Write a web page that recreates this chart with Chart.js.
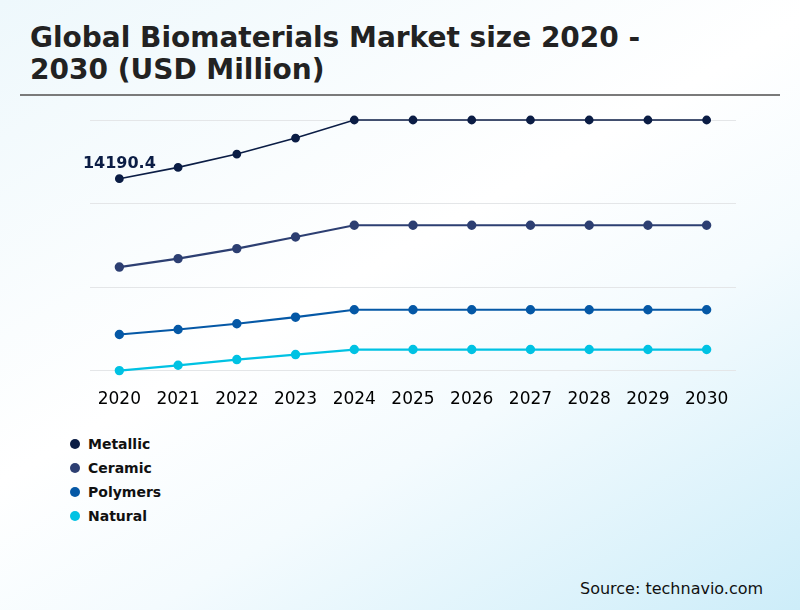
<!DOCTYPE html>
<html>
<head>
<meta charset="utf-8">
<script src="https://cdn.jsdelivr.net/npm/chart.js@4.4.1/dist/chart.umd.min.js"></script>
<style>
  html, body { margin:0; padding:0; }
  body {
    width:800px; height:610px; overflow:hidden; position:relative;
    font-family: "DejaVu Sans", sans-serif;
    background: linear-gradient(150deg, #eef8fc 0%, #ffffff 45%, #f4fbfe 65%, #cdedf9 100%);
  }
  #title {
    position:absolute; left:30px; top:22px; margin:0;
    font-size:28px; font-weight:bold; color:#222; line-height:32px;
  }
  #rule { position:absolute; left:20px; top:94px; width:760px; height:2px; background:#7a7a7a; }
  #wrap { position:absolute; left:0; top:100px; width:800px; height:328px; }
  #legend { position:absolute; left:70px; top:432px; }
  .li { display:flex; align-items:center; height:24px; font-size:14px; font-weight:bold; color:#111; }
  .dot { width:10px; height:10px; border-radius:50%; margin-right:8px; }
  #source { position:absolute; left:580px; top:579px; font-size:16px; color:#111; }
</style>
</head>
<body>
<div id="title">Global Biomaterials Market size 2020 -<br>2030 (USD Million)</div>
<div id="rule"></div>
<div id="wrap"><canvas id="c"></canvas></div>
<div id="legend"></div>
<div id="source">Source: technavio.com</div>
<script>
const years = ['2020','2021','2022','2023','2024','2025','2026','2027','2028','2029','2030'];
const seriesNames = ['Metallic','Ceramic','Polymers','Natural'];
const seriesColors = ['#0b1d45','#2d3f72','#0558a6','#00c2e3'];
const metallic = [14190.4, 14730, 15368, 16136, 17000, 17000, 17000, 17000, 17000, 17000, 17000];
const ceramic  = [9958, 10362, 10842, 11398, 11960, 11960, 11960, 11960, 11960, 11960, 11960];
const polymers = [6728, 6968, 7242, 7558, 7914, 7914, 7914, 7914, 7914, 7914, 7914];
const natural  = [5000, 5254, 5528, 5768, 6008, 6008, 6008, 6008, 6008, 6008, 6008];
const yTicks = [5000, 9000, 13000, 17000];
const firstLabel = '14190.4';

const allData = [metallic, ceramic, polymers, natural];
const widths = [1.6, 2.2, 2.2, 2.2];

const labelPlugin = {
  id: 'firstLabel',
  afterDatasetsDraw(chart) {
    const pt = chart.getDatasetMeta(0).data[0];
    const ctx = chart.ctx;
    ctx.save();
    ctx.font = 'bold 16px "DejaVu Sans"';
    ctx.fillStyle = '#0b1d45';
    ctx.textAlign = 'center';
    ctx.textBaseline = 'middle';
    ctx.fillText(firstLabel, pt.x, pt.y - 15);
    ctx.restore();
  }
};

new Chart(document.getElementById('c'), {
  type: 'line',
  data: {
    labels: years,
    datasets: allData.map((d, i) => ({
      label: seriesNames[i],
      data: d,
      borderColor: seriesColors[i],
      backgroundColor: seriesColors[i],
      borderWidth: widths[i],
      pointRadius: 3.6,
      pointHoverRadius: 4,
      tension: 0,
      clip: false
    }))
  },
  options: {
    responsive: true,
    maintainAspectRatio: false,
    animation: false,
    layout: { padding: { left: 90, right: 64, top: 20, bottom: 7 } },
    plugins: { legend: { display: false }, tooltip: { enabled: false } },
    scales: {
      x: {
        offset: true,
        grid: { display: false },
        border: { display: false },
        ticks: { color: '#000', font: { family: 'DejaVu Sans', size: 17 }, padding: 11, maxRotation: 0 }
      },
      y: {
        min: yTicks[0],
        max: yTicks[yTicks.length - 1],
        afterBuildTicks(axis) { axis.ticks = yTicks.map(v => ({ value: v })); },
        ticks: { display: false },
        grid: { color: '#e4e6e8', drawTicks: false, lineWidth: 1 },
        border: { display: false }
      }
    }
  },
  plugins: [labelPlugin]
});

const leg = document.getElementById('legend');
seriesNames.forEach((n, i) => {
  const row = document.createElement('div');
  row.className = 'li';
  row.innerHTML = '<span class="dot" style="background:' + seriesColors[i] + '"></span>' + n;
  leg.appendChild(row);
});
</script>
</body>
</html>
